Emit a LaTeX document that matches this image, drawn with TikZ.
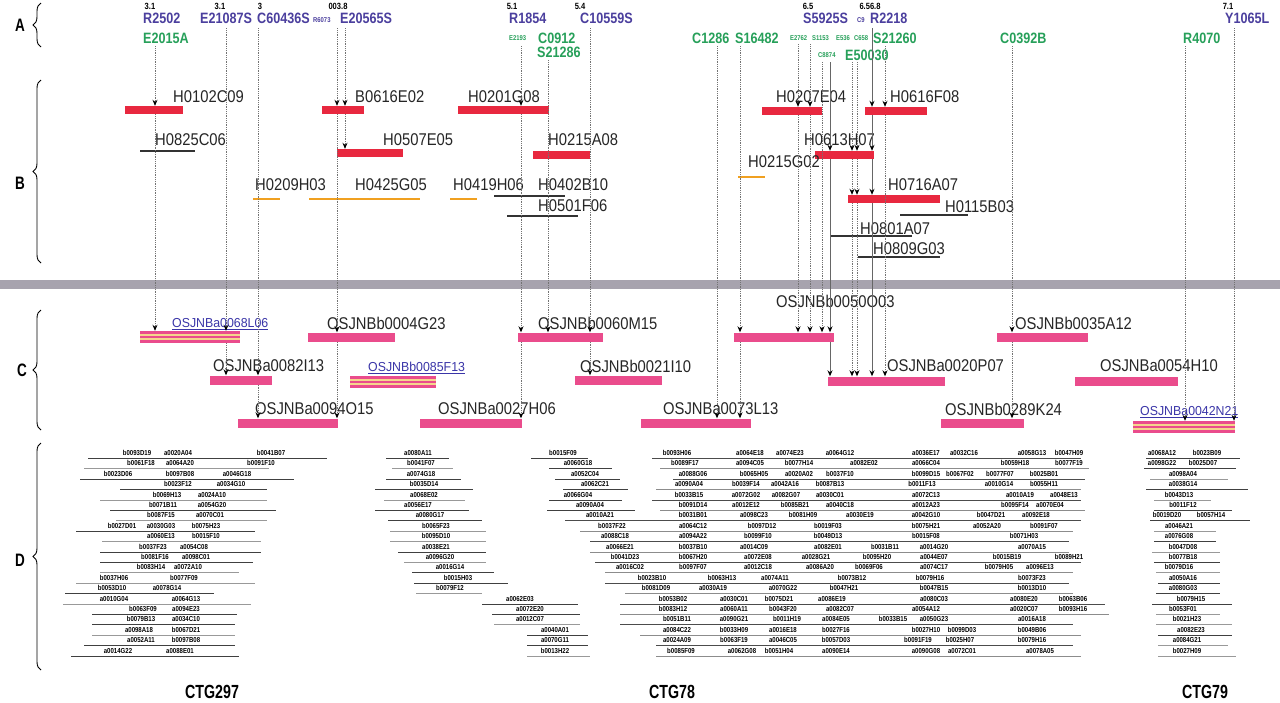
\documentclass[tikz,border=0pt]{standalone}
\usepackage{fontspec}
\setmainfont{Liberation Sans}
\newfontfamily\labf[FakeStretch=0.87]{Liberation Sans}
\newfontfamily\linkf[FakeStretch=0.95]{Liberation Sans}
\newfontfamily\topf[FakeStretch=0.84]{Liberation Sans Bold}
\newfontfamily\ctgf[FakeStretch=0.75]{Liberation Sans Bold}
\usetikzlibrary{arrows.meta,decorations.pathreplacing}
\definecolor{topblue}{HTML}{4B3F9E}
\definecolor{topgreen}{HTML}{27A05A}
\definecolor{barred}{HTML}{E8283F}
\definecolor{barpink}{HTML}{EA4C8C}
\definecolor{barorange}{HTML}{F0A020}
\definecolor{stripey}{HTML}{F5D58C}
\definecolor{bandgray}{HTML}{A7A3AE}
\definecolor{linkblue}{HTML}{3A35A8}
\tikzset{
 lab/.style={font=\labf\fontsize{17}{17}\selectfont, inner sep=0pt, anchor=west, text=black!85},
 linklab/.style={font=\linkf\fontsize{13}{13}\selectfont, inner sep=0pt, anchor=west, text=linkblue},
 toplab/.style={font=\topf\fontsize{15}{15}\selectfont, inner sep=0pt, anchor=west},
 tb/.style={toplab, text=topblue},
 tg/.style={toplab, text=topgreen},
 tinylab/.style={font=\topf\fontsize{7}{7}\selectfont, inner sep=0pt, anchor=west},
 numlab/.style={font=\topf\fontsize{9}{9}\selectfont, inner sep=0pt, text=black},
 ctg/.style={font=\ctgf\fontsize{19}{19}\selectfont, inner sep=0pt},
 letter/.style={font=\ctgf\fontsize{18}{18}\selectfont, inner sep=0pt},
 dlab/.style={font=\topf\fontsize{7.2}{7.2}\selectfont, inner sep=0pt, text=black},
 redbar/.style={rectangle, fill=barred, inner sep=0pt, minimum height=8pt},
 pinkbar/.style={rectangle, fill=barpink, inner sep=0pt, minimum height=9pt},
 orline/.style={rectangle, fill=barorange, inner sep=0pt, minimum height=2pt},
 blline/.style={rectangle, fill=black!80, inner sep=0pt, minimum height=2pt},
 sbar/.style={rectangle, fill=stripey, inner sep=0pt, minimum height=12pt, path picture={
   \fill[barpink] (path picture bounding box.north west) rectangle ([yshift=-2.6pt]path picture bounding box.north east);
   \fill[barpink] ([yshift=-1.3pt]path picture bounding box.west) rectangle ([yshift=1.3pt]path picture bounding box.east);
   \fill[barpink] (path picture bounding box.south west) rectangle ([yshift=2.6pt]path picture bounding box.south east);}},
 vl/.style={densely dotted, black!55, line width=0.8pt},
 vs/.style={black!60, line width=1pt},
 arr/.style={-{Stealth[length=6pt,width=5pt,black]}},
 topc/.style={inner sep=0pt, minimum size=0pt},
 brc/.style={decorate, decoration={brace, amplitude=8pt}, line width=0.9pt},
}
\newcommand\mybar[5]{\node[#1, minimum width={(#4-#3)*1pt}] (#2) at ({(#3+#4)/2},#5) {};}
\newcommand\vchain[3]{\foreach \nn [remember=\nn as \pp (initially #2)] in {#3}{\draw[#1,arr] (#2 |- \pp.south) -- (#2 |- \nn.north);}}
\newcommand\drow[5]{%
 \draw[#4, line width=0.8pt] (#2,#1) -- (#3,#1);
 \foreach \lx in {#5}{%
  \pgfmathtruncatemacro\ra{mod(\lx*7+#1*3,90)+10}%
  \pgfmathtruncatemacro\rb{mod(\lx*3+#1,23)+1}%
  \pgfmathtruncatemacro\rc{mod(\lx+#1,2)}%
  \pgfmathtruncatemacro\rd{mod(\lx*5+#1*11,8)}%
  \edef\rl{\ifcase\rd A\or B\or C\or D\or E\or F\or G\or H\fi}%
  \node[dlab] (D#1-\lx) at (\lx,#1-4.8) {\ifnum\rc=0 a\else b\fi00\ra\rl\ifnum\rb<10 0\fi\rb};
 }}
\begin{document}
\begin{tikzpicture}[x=1pt,y=-1pt]
\useasboundingbox (0,0) rectangle (1280,702);
\fill[white] (0,0) rectangle (1280,702);
% gray band
\fill[bandgray] (0,280) rectangle (1280,289);
% braces and section letters
\node[letter] (secA) at (20,25) {A};
\node[letter] (secB) at (20,183) {B};
\node[letter] (secC) at (22,370) {C};
\node[letter] (secD) at (20,560) {D};
\draw[brc] (41,47) -- (41,3);
\draw[brc] (41,263) -- (41,80);
\draw[brc] (41,430) -- (41,310);
\draw[brc] (41,670) -- (41,443);
% ---- A: markers
\node[numlab] (n1) at (150,6) {3.1};
\node[numlab] (n2) at (220,6) {3.1};
\node[numlab] (n3) at (260,6) {3};
\node[numlab] (n4) at (338,6) {003.8};
\node[numlab] (n5) at (512,6) {5.1};
\node[numlab] (n6) at (580,6) {5.4};
\node[numlab] (n7) at (808,6) {6.5};
\node[numlab] (n8) at (870,6) {6.56.8};
\node[numlab] (n9) at (1228,6) {7.1};
\node[tb] (R2502) at (143,18) {R2502};
\node[tb] (E21087S) at (200,18) {E21087S};
\node[tb] (C60436S) at (257,18) {C60436S};
\node[tinylab,text=topblue] (R6073) at (313,20) {R6073};
\node[tb] (E20565S) at (340,18) {E20565S};
\node[tb] (R1854) at (509,18) {R1854};
\node[tb] (C10559S) at (580,18) {C10559S};
\node[tb] (S5925S) at (803,18) {S5925S};
\node[tinylab,text=topblue] (C9) at (857,20) {C9};
\node[tb] (R2218) at (870,18) {R2218};
\node[tb] (Y1065L) at (1225,18) {Y1065L};
\node[tg] (E2015A) at (143,38) {E2015A};
\node[tinylab,text=topgreen] (E2193) at (509,38) {E2193};
\node[tg] (C0912) at (538,38) {C0912};
\node[tg] (S21286) at (537,52) {S21286};
\node[tg] (C1286) at (692,38) {C1286};
\node[tg] (S16482) at (735,38) {S16482};
\node[tinylab,text=topgreen] (E2762) at (790,38) {E2762};
\node[tinylab,text=topgreen] (S1153) at (812,38) {S1153};
\node[tinylab,text=topgreen] (E536) at (836,38) {E536};
\node[tinylab,text=topgreen] (C658) at (854,38) {C658};
\node[tg] (S21260) at (873,38) {S21260};
\node[tg] (C0392B) at (1000,38) {C0392B};
\node[tg] (R4070) at (1183,38) {R4070};
\node[tinylab,text=topgreen] (C8874) at (818,55) {C8874};
\node[tg] (E50030) at (845,55) {E50030};
% ---- B: BAC clones
\mybar{redbar}{H0102C09}{125}{183}{110}
\node[lab] (lH0102C09) at (173,97) {H0102C09};
\mybar{blline}{H0825C06}{140}{195}{151}
\node[lab] (lH0825C06) at (155,140) {H0825C06};
\mybar{redbar}{B0616E02}{322}{364}{110}
\node[lab] (lB0616E02) at (355,97) {B0616E02};
\mybar{redbar}{H0507E05}{337}{403}{153}
\node[lab] (lH0507E05) at (383,140) {H0507E05};
\mybar{redbar}{H0201G08}{458}{549}{110}
\node[lab] (lH0201G08) at (468,97) {H0201G08};
\mybar{redbar}{H0215A08}{533}{590}{155}
\node[lab] (lH0215A08) at (548,140) {H0215A08};
\mybar{orline}{H0209H03}{253}{280}{199}
\node[lab] (lH0209H03) at (255,185) {H0209H03};
\mybar{orline}{H0425G05}{309}{420}{199}
\node[lab] (lH0425G05) at (355,185) {H0425G05};
\mybar{orline}{H0419H06}{450}{477}{199}
\node[lab] (lH0419H06) at (453,185) {H0419H06};
\mybar{blline}{H0402B10}{494}{565}{196}
\node[lab] (lH0402B10) at (538,185) {H0402B10};
\mybar{blline}{H0501F06}{507}{578}{216}
\node[lab] (lH0501F06) at (538,206) {H0501F06};
\mybar{redbar}{H0207E04}{762}{822}{111}
\node[lab] (lH0207E04) at (776,97) {H0207E04};
\mybar{redbar}{H0616F08}{865}{927}{111}
\node[lab] (lH0616F08) at (890,97) {H0616F08};
\mybar{redbar}{H0613H07}{815}{874}{155}
\node[lab] (lH0613H07) at (804,140) {H0613H07};
\mybar{orline}{H0215G02}{738}{765}{177}
\node[lab] (lH0215G02) at (748,162) {H0215G02};
\mybar{redbar}{H0716A07}{848}{940}{199}
\node[lab] (lH0716A07) at (888,185) {H0716A07};
\mybar{blline}{H0115B03}{900}{968}{215}
\node[lab] (lH0115B03) at (945,207) {H0115B03};
\mybar{blline}{H0801A07}{830}{912}{236}
\node[lab] (lH0801A07) at (860,229) {H0801A07};
\mybar{blline}{H0809G03}{858}{940}{257}
\node[lab] (lH0809G03) at (873,249) {H0809G03};
% ---- C: PAC/BAC clones
\mybar{sbar}{OSJNBa0068L06}{140}{240}{337}
\node[linklab] (lOSJNBa0068L06) at (172,324) {\underline{OSJNBa0068L06}};
\mybar{pinkbar}{OSJNBb0004G23}{308}{395}{337}
\node[lab] (lOSJNBb0004G23) at (327,323) {OSJNBb0004G23};
\mybar{pinkbar}{OSJNBa0082I13}{210}{272}{380}
\node[lab] (lOSJNBa0082I13) at (213,366) {OSJNBa0082I13};
\mybar{sbar}{OSJNBb0085F13}{350}{436}{382}
\node[linklab] (lOSJNBb0085F13) at (368,368) {\underline{OSJNBb0085F13}};
\mybar{pinkbar}{OSJNBa0094O15}{238}{338}{423}
\node[lab] (lOSJNBa0094O15) at (255,409) {OSJNBa0094O15};
\mybar{pinkbar}{OSJNBa0027H06}{420}{522}{423}
\node[lab] (lOSJNBa0027H06) at (438,409) {OSJNBa0027H06};
\mybar{pinkbar}{OSJNBb0060M15}{518}{603}{337}
\node[lab] (lOSJNBb0060M15) at (538,323) {OSJNBb0060M15};
\mybar{pinkbar}{OSJNBb0021I10}{575}{662}{380}
\node[lab] (lOSJNBb0021I10) at (580,366) {OSJNBb0021I10};
\mybar{pinkbar}{OSJNBb0050O03}{734}{834}{337}
\node[lab] (lOSJNBb0050O03) at (776,301) {OSJNBb0050O03};
\mybar{pinkbar}{OSJNBa0073L13}{641}{751}{423}
\node[lab] (lOSJNBa0073L13) at (663,409) {OSJNBa0073L13};
\mybar{pinkbar}{OSJNBa0020P07}{828}{945}{381}
\node[lab] (lOSJNBa0020P07) at (887,366) {OSJNBa0020P07};
\mybar{pinkbar}{OSJNBb0035A12}{997}{1088}{337}
\node[lab] (lOSJNBb0035A12) at (1015,323) {OSJNBb0035A12};
\mybar{pinkbar}{OSJNBa0054H10}{1075}{1178}{381}
\node[lab] (lOSJNBa0054H10) at (1100,366) {OSJNBa0054H10};
\mybar{pinkbar}{OSJNBb0289K24}{941}{1024}{423}
\node[lab] (lOSJNBb0289K24) at (945,409) {OSJNBb0289K24};
\mybar{sbar}{OSJNBa0042N21}{1133}{1235}{427}
\node[linklab] (lOSJNBa0042N21) at (1140,412) {\underline{OSJNBa0042N21}};
% ---- marker connectors
\node[topc] (t1) at (155,46) {};
\node[topc] (t2) at (226,28) {};
\node[topc] (t3) at (258,28) {};
\node[topc] (t4) at (337,28) {};
\node[topc] (t5) at (345,28) {};
\node[topc] (t6) at (521,46) {};
\node[topc] (t7) at (548,60) {};
\node[topc] (t8) at (590,28) {};
\node[topc] (t9) at (717,46) {};
\node[topc] (t10) at (740,46) {};
\node[topc] (t11) at (798,44) {};
\node[topc] (t12) at (810,44) {};
\node[topc] (t13) at (822,62) {};
\node[topc] (t14) at (830,62) {};
\node[topc] (t15) at (852,62) {};
\node[topc] (t16) at (857,62) {};
\node[topc] (t17) at (872,28) {};
\node[topc] (t18) at (885,46) {};
\node[topc] (t19) at (1012,46) {};
\node[topc] (t20) at (1185,46) {};
\node[topc] (t21) at (1234,28) {};
\vchain{vl}{t1}{H0102C09,OSJNBa0068L06}
\vchain{vl}{t2}{OSJNBa0068L06,OSJNBa0082I13}
\vchain{vl}{t3}{OSJNBa0082I13,OSJNBa0094O15}
\vchain{vl}{t4}{B0616E02,OSJNBb0004G23,OSJNBa0094O15}
\vchain{vl}{t5}{B0616E02,H0507E05}
\vchain{vl}{t6}{H0201G08,OSJNBb0060M15,OSJNBa0027H06}
\vchain{vl}{t7}{OSJNBb0060M15}
\vchain{vl}{t8}{OSJNBb0060M15,OSJNBb0021I10}
\vchain{vl}{t9}{OSJNBa0073L13}
\vchain{vl}{t10}{OSJNBb0050O03,OSJNBa0073L13}
\vchain{vl}{t11}{H0207E04,OSJNBb0050O03}
\vchain{vl}{t12}{H0207E04,OSJNBb0050O03}
\vchain{vl}{t13}{OSJNBb0050O03}
\vchain{vs}{t14}{H0613H07,OSJNBb0050O03,OSJNBa0020P07}
\vchain{vl}{t15}{H0613H07,H0716A07,OSJNBa0020P07}
\vchain{vl}{t16}{H0613H07,H0716A07,OSJNBa0020P07}
\vchain{vs}{t17}{H0616F08,H0613H07,H0716A07,OSJNBa0020P07}
\vchain{vl}{t18}{H0616F08,OSJNBa0020P07}
\vchain{vl}{t19}{OSJNBb0035A12,OSJNBb0289K24}
\vchain{vl}{t20}{OSJNBa0042N21}
\vchain{vl}{t21}{OSJNBa0042N21}
% ---- D: clone tiling paths
% CTG297
\drow{458}{88}{327}{black!75}{137,178,271}
\drow{468}{84}{269}{black!40}{141,180,261}
\drow{479}{80}{294}{black!75}{118,180,237}
\drow{489}{120}{267}{black!75}{178,231}
\drow{500}{100}{267}{black!40}{167,212}
\drow{510}{110}{276}{black!75}{163,212}
\drow{520}{116}{267}{black!40}{161,210}
\drow{531}{76}{255}{black!75}{122,161,206}
\drow{541}{102}{261}{black!40}{161,206}
\drow{552}{100}{261}{black!75}{153,194}
\drow{562}{100}{253}{black!75}{155,196}
\drow{572}{100}{239}{black!40}{151,188}
\drow{583}{76}{255}{black!40}{114,184}
\drow{593}{65}{214}{black!75}{112,167}
\drow{604}{63}{251}{black!40}{114,186}
\drow{614}{92}{237}{black!75}{143,186}
\drow{624}{92}{235}{black!75}{141,186}
\drow{635}{92}{235}{black!40}{139,186}
\drow{645}{84}{235}{black!75}{141,186}
\drow{656}{71}{239}{black!75}{118,180}
% CTG78 left columns
\drow{458}{386}{449}{black!75}{418}
\drow{468}{392}{453}{black!40}{421}
\drow{479}{386}{461}{black!75}{421}
\drow{489}{375}{473}{black!75}{424}
\drow{500}{384}{465}{black!40}{424}
\drow{510}{375}{469}{black!75}{418}
\drow{520}{388}{482}{black!75}{430}
\drow{531}{390}{486}{black!40}{436}
\drow{541}{390}{486}{black!40}{436}
\drow{552}{398}{486}{black!75}{436}
\drow{562}{404}{486}{black!40}{440}
\drow{572}{412}{494}{black!75}{450}
\drow{583}{414}{508}{black!75}{458}
\drow{593}{416}{482}{black!40}{450}
\drow{604}{482}{578}{black!75}{520}
\drow{614}{492}{580}{black!75}{530}
\drow{624}{494}{580}{black!40}{530}
\drow{635}{527}{588}{black!75}{555}
\drow{645}{527}{588}{black!75}{555}
\drow{656}{527}{590}{black!40}{555}
\drow{458}{531}{588}{black!75}{563}
\drow{468}{549}{612}{black!75}{578}
\drow{479}{555}{620}{black!75}{585}
\drow{489}{563}{628}{black!75}{595}
\drow{500}{549}{622}{black!75}{578}
\drow{510}{547}{635}{black!75}{590}
% CTG78 main block
\drow{458}{652}{1081}{black!70}{677,750,790,840,926,964,1032,1069}
\drow{468}{660}{1089}{black!45}{685,750,799,864,926,1015,1069}
\drow{479}{673}{1085}{black!70}{693,754,799,840,926,960,1000,1044}
\drow{489}{656}{1081}{black!45}{689,746,785,830,922,999,1044}
\drow{500}{652}{1081}{black!70}{689,746,786,830,926,1020,1064}
\drow{510}{660}{1085}{black!45}{693,746,795,840,926,1015,1050}
\drow{520}{565}{1081}{black!70}{600,693,754,803,860,926,991,1036}
\drow{531}{580}{1073}{black!45}{612,693,762,828,926,987,1044}
\drow{541}{590}{1069}{black!70}{615,693,758,828,926,1024}
\drow{552}{590}{1069}{black!45}{620,693,754,828,885,934,1032}
\drow{562}{595}{1081}{black!70}{625,693,758,816,877,934,1007,1069}
\drow{572}{605}{1073}{black!45}{630,693,758,820,869,934,999,1040}
\drow{583}{605}{1069}{black!70}{652,722,775,852,930,1032}
\drow{593}{625}{1073}{black!45}{656,713,783,844,934,1032}
\drow{604}{620}{1105}{black!70}{673,734,779,832,934,1024,1073}
\drow{614}{620}{1109}{black!45}{673,734,783,840,926,1024,1073}
\drow{624}{620}{1073}{black!70}{677,734,787,836,893,934,1032}
\drow{635}{640}{1081}{black!45}{677,734,783,836,926,962,1032}
\drow{645}{656}{1073}{black!70}{677,734,783,836,918,960,1032}
\drow{656}{656}{1081}{black!45}{681,742,779,836,926,962,1040}
% CTG79
\drow{458}{1146}{1240}{black!75}{1162,1207}
\drow{468}{1144}{1236}{black!75}{1162,1203}
\drow{479}{1150}{1228}{black!40}{1183}
\drow{489}{1146}{1248}{black!75}{1183}
\drow{500}{1154}{1211}{black!40}{1179}
\drow{510}{1154}{1232}{black!75}{1183}
\drow{520}{1150}{1250}{black!75}{1167,1211}
\drow{531}{1154}{1216}{black!40}{1179}
\drow{541}{1154}{1216}{black!75}{1179}
\drow{552}{1152}{1220}{black!40}{1183}
\drow{562}{1154}{1220}{black!75}{1183}
\drow{572}{1156}{1220}{black!40}{1179}
\drow{583}{1158}{1220}{black!75}{1183}
\drow{593}{1156}{1220}{black!75}{1183}
\drow{604}{1152}{1232}{black!75}{1191}
\drow{614}{1156}{1220}{black!40}{1183}
\drow{624}{1156}{1232}{black!40}{1187}
\drow{635}{1158}{1232}{black!75}{1191}
\drow{645}{1158}{1228}{black!40}{1187}
\drow{656}{1158}{1236}{black!40}{1187}
% contig names
\node[ctg] (CTG297) at (212,692) {CTG297};
\node[ctg] (CTG78) at (672,692) {CTG78};
\node[ctg] (CTG79) at (1205,692) {CTG79};
\end{tikzpicture}
\end{document}
